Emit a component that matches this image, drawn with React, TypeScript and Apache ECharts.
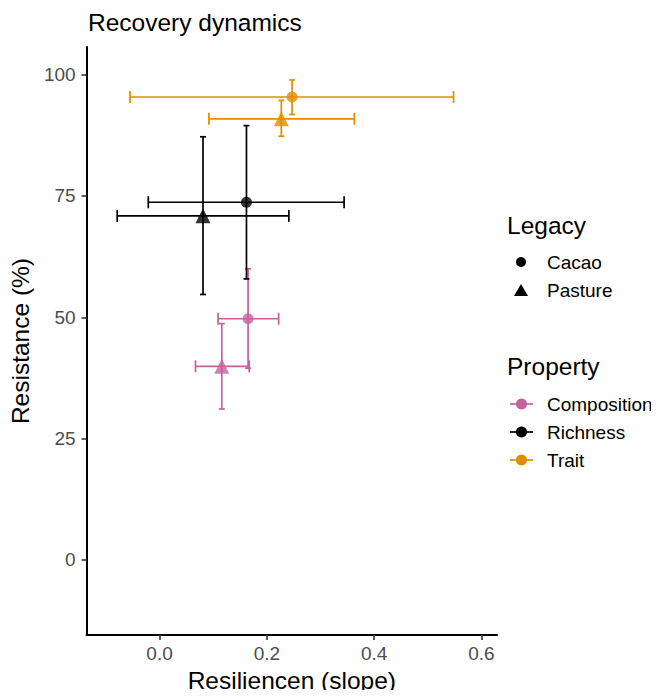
import React, { useEffect, useRef } from "react";
import * as echarts from "echarts";

// ---- Data ----
const properties = ["Composition", "Composition", "Richness", "Richness", "Trait", "Trait"];
const legacies = ["Cacao", "Pasture", "Cacao", "Pasture", "Cacao", "Pasture"];
const xMean = [0.165, 0.116, 0.162, 0.081, 0.247, 0.227];
const xLow = [0.109, 0.067, -0.021, -0.079, -0.055, 0.092];
const xHigh = [0.222, 0.167, 0.344, 0.241, 0.548, 0.363];
const yMean = [49.7, 39.9, 73.7, 70.9, 95.4, 90.9];
const yLow = [39.5, 31.1, 57.9, 54.7, 91.8, 87.3];
const yHigh = [60.0, 48.7, 89.5, 87.2, 98.9, 94.7];

const propertyNames = ["Composition", "Richness", "Trait"];
const legacyNames = ["Cacao", "Pasture"];
const xTicks = [0, 0.2, 0.4, 0.6];
const yTicks = [0, 25, 50, 75, 100];

const colors: Record<string, string> = {
  Composition: "#C5619C",
  Richness: "#000000",
  Trait: "#E18D00",
};

const FONT = "Liberation Sans, Arial, Helvetica, sans-serif";

export default function App() {
  const ref = useRef<HTMLDivElement>(null);

  useEffect(() => {
    if (!ref.current) return;
    const chart = echarts.init(ref.current, null, { renderer: "svg" });

    const rows = xMean.map((x, i) => [x, yMean[i], xLow[i], xHigh[i], yLow[i], yHigh[i], i]);

    const errorSeries = {
      type: "custom",
      name: "errorbars",
      data: rows,
      encode: { x: 0, y: 1 },
      z: 2,
      renderItem: (params: any, api: any) => {
        const i = api.value(6);
        const c = colors[properties[i]];
        const p = api.coord([api.value(0), api.value(1)]);
        const xl = api.coord([api.value(2), api.value(1)]);
        const xh = api.coord([api.value(3), api.value(1)]);
        const yl = api.coord([api.value(0), api.value(4)]);
        const yh = api.coord([api.value(0), api.value(5)]);
        const style = { stroke: c, lineWidth: 1.7 };
        const capH = 6;
        const capW = 3;
        const ln = (x1: number, y1: number, x2: number, y2: number) => ({
          type: "line",
          shape: { x1, y1, x2, y2 },
          style,
        });
        return {
          type: "group",
          children: [
            ln(xl[0], p[1], xh[0], p[1]),
            ln(xl[0], p[1] - capH, xl[0], p[1] + capH),
            ln(xh[0], p[1] - capH, xh[0], p[1] + capH),
            ln(p[0], yl[1], p[0], yh[1]),
            ln(p[0] - capW, yl[1], p[0] + capW, yl[1]),
            ln(p[0] - capW, yh[1], p[0] + capW, yh[1]),
          ],
        };
      },
    };

    const pointSeries = legacyNames.map((leg) => ({
      type: "scatter",
      name: leg,
      z: 3,
      symbol: leg === "Cacao" ? "circle" : "triangle",
      symbolSize: leg === "Cacao" ? 11 : 15,
      data: xMean
        .map((x, i) => ({
          value: [x, yMean[i]],
          itemStyle: { color: colors[properties[i]] },
          leg: legacies[i],
        }))
        .filter((d) => d.leg === leg)
        .map((d) => ({ value: d.value, itemStyle: d.itemStyle })),
    }));

    const legendX = 507;
    const keyX = 521;
    const textX = 547;
    const legendGraphics: any[] = [
      {
        type: "text",
        left: legendX,
        top: 213,
        style: { text: "Legacy", font: `24.5px ${FONT}`, fill: "#000" },
      },
      { type: "circle", shape: { cx: keyX, cy: 262, r: 5 }, style: { fill: "#000" } },
      {
        type: "text",
        x: textX,
        y: 262,
        style: { text: legacyNames[0], font: `19px ${FONT}`, fill: "#000", verticalAlign: "middle" },
      },
      {
        type: "polygon",
        shape: { points: [[keyX - 7, 296], [keyX + 7, 296], [keyX, 284]] },
        style: { fill: "#000" },
      },
      {
        type: "text",
        x: textX,
        y: 290,
        style: { text: legacyNames[1], font: `19px ${FONT}`, fill: "#000", verticalAlign: "middle" },
      },
      {
        type: "text",
        left: legendX,
        top: 354,
        style: { text: "Property", font: `24.5px ${FONT}`, fill: "#000" },
      },
    ];
    const propY = [404, 432, 460];
    propertyNames.forEach((p, k) => {
      const c = colors[p];
      legendGraphics.push(
        {
          type: "line",
          shape: { x1: 510, y1: propY[k], x2: 533, y2: propY[k] },
          style: { stroke: c, lineWidth: 1.7 },
        },
        { type: "circle", shape: { cx: keyX + 0.5, cy: propY[k], r: 5.5 }, style: { fill: c } },
        {
          type: "text",
          x: textX,
          y: propY[k],
          style: { text: p, font: `19px ${FONT}`, fill: "#000", verticalAlign: "middle" },
        }
      );
    });

    chart.setOption({
      animation: false,
      backgroundColor: "#ffffff",
      textStyle: { fontFamily: FONT },
      title: {
        text: "Recovery dynamics",
        left: 88,
        top: 10,
        padding: 0,
        textStyle: { fontFamily: FONT, fontSize: 24.5, fontWeight: "normal", color: "#000" },
      },
      grid: { left: 84, right: 162, top: 47, bottom: 60, containLabel: false },
      xAxis: {
        type: "value",
        min: -0.136,
        max: 0.629,
        name: "Resiliencen (slope)",
        nameLocation: "middle",
        nameGap: 29,
        nameTextStyle: { fontFamily: FONT, fontSize: 24.5, color: "#000" },
        axisLine: { show: true, onZero: false, lineStyle: { color: "#000", width: 2 } },
        axisTick: {
          show: true,
          length: 5,
          customValues: xTicks,
          lineStyle: { color: "#333", width: 1.6 },
        },
        axisLabel: {
          customValues: xTicks,
          formatter: (v: number) => v.toFixed(1),
          fontSize: 19,
          color: "#4d4d4d",
          margin: 9,
          fontFamily: FONT,
        },
        splitLine: { show: false },
      },
      yAxis: {
        type: "value",
        min: -15.5,
        max: 105.7,
        name: "Resistance (%)",
        nameLocation: "middle",
        nameGap: 50,
        nameTextStyle: { fontFamily: FONT, fontSize: 24.5, color: "#000" },
        axisLine: { show: true, onZero: false, lineStyle: { color: "#000", width: 2 } },
        axisTick: {
          show: true,
          length: 5,
          customValues: yTicks,
          lineStyle: { color: "#333", width: 1.6 },
        },
        axisLabel: {
          customValues: yTicks,
          fontSize: 19,
          color: "#4d4d4d",
          margin: 11,
          fontFamily: FONT,
        },
        splitLine: { show: false },
      },
      graphic: legendGraphics,
      series: [errorSeries, ...pointSeries],
    });

    return () => chart.dispose();
  }, []);

  return <div ref={ref} style={{ width: 659, height: 698, margin: -8 }} />;
}
